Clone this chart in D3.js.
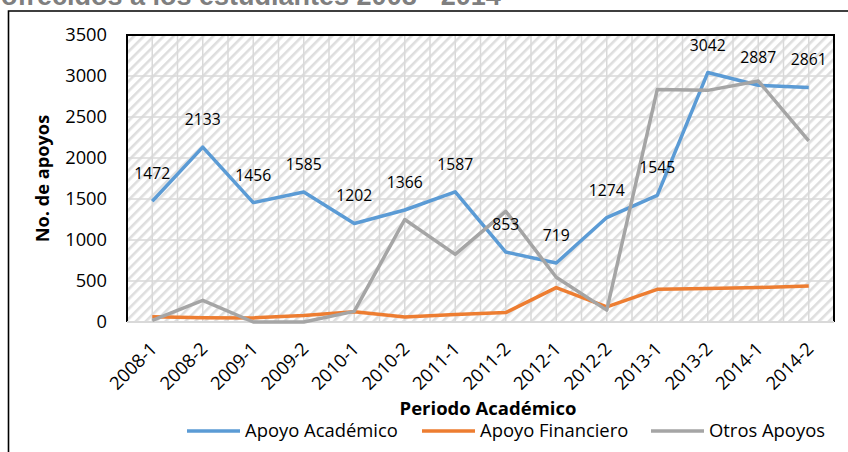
<!DOCTYPE html>
<html><head><meta charset="utf-8">
<script src="https://cdn.jsdelivr.net/npm/d3@7"></script>
<style>
html,body{margin:0;padding:0;background:#fff;}
svg{display:block;}
</style></head>
<body>
<svg id="chart" width="848" height="452"></svg>
<script>
const periods = ["2008-1","2008-2","2009-1","2009-2","2010-1","2010-2","2011-1","2011-2","2012-1","2012-2","2013-1","2013-2","2014-1","2014-2"];
const apoyoAcademico = [1472,2133,1456,1585,1202,1366,1587,853,719,1274,1545,3042,2887,2861];
const apoyoFinanciero = [65,52,50,80,125,60,92,115,420,185,398,408,420,440];
const otrosApoyos = [20,265,0,0,130,1250,825,1350,545,145,2835,2825,2940,2210];
const yTicks = [0,500,1000,1500,2000,2500,3000,3500];
const seriesNames = ["Apoyo Académico","Apoyo Financiero","Otros Apoyos"];
const seriesColors = ["#5b9bd5","#ed7d31","#a5a5a5"];
const titleText = "ofrecidos a los estudiantes 2008 - 2014";

const svg = d3.select("#chart");
const font = "'Open Sans', Lato, sans-serif";
const L = 127, R = 834, T = 35, B = 322;

// title (clipped at top, as in the reference)
svg.append("text").attr("x", 1).attr("y", 5)
  .attr("font-family", "'Liberation Sans', Arial, sans-serif").attr("font-weight", "bold")
  .attr("font-size", 27).attr("fill", "#7f7f7f").text(titleText);

// outer border
svg.append("path").attr("d", `M8.5,460 V11 H860`).attr("fill", "none").attr("stroke", "#000").attr("stroke-width", 1.6);

// hatch pattern
const defs = svg.append("defs");
const pat = defs.append("pattern").attr("id", "hatch").attr("patternUnits", "userSpaceOnUse")
  .attr("width", 7).attr("height", 7).attr("patternTransform", "rotate(45)");
pat.append("rect").attr("width", 7).attr("height", 7).attr("fill", "#ffffff");
pat.append("rect").attr("x", 0).attr("width", 2.6).attr("height", 7).attr("fill", "#dedede");

const x = d3.scaleBand().domain(periods).range([L, R]);
const y = d3.scaleLinear().domain([0, 3500]).range([B, T]);
const cx = d => x(d) + x.bandwidth() / 2;

svg.append("rect").attr("x", L).attr("y", T).attr("width", R - L).attr("height", B - T).attr("fill", "url(#hatch)");

// vertical gridlines (major + minor)
const g = svg.append("g");
const vpos = [];
periods.forEach((p, i) => { vpos.push(x(p)); vpos.push(cx(p)); });
vpos.push(R);
g.selectAll("line.v").data(vpos).join("line")
  .attr("x1", d => d).attr("x2", d => d).attr("y1", T).attr("y2", B)
  .attr("stroke", "#d9d9d9").attr("stroke-width", 1.5);
g.selectAll("line.h").data(yTicks).join("line")
  .attr("x1", L).attr("x2", R).attr("y1", d => y(d)).attr("y2", d => y(d))
  .attr("stroke", "#d9d9d9").attr("stroke-width", 1.5);

// plot border: left, top, right in black
svg.append("path").attr("d", `M${L},${B} V${T} H${R} V${B}`).attr("fill", "none").attr("stroke", "#000").attr("stroke-width", 2);
svg.append("line").attr("x1", L).attr("x2", R).attr("y1", B).attr("y2", B).attr("stroke", "#d9d9d9").attr("stroke-width", 2);

// y axis ticks
const yAxis = d3.axisLeft(y).tickValues(yTicks).tickFormat(d3.format("d")).tickSize(0).tickPadding(20);
const ya = svg.append("g").attr("transform", `translate(${L},0)`).call(yAxis);
ya.select(".domain").remove();
ya.selectAll("text").attr("font-family", font).attr("font-size", 18.3).attr("fill", "#000");

// x axis
const xAxis = d3.axisBottom(x).tickSize(0);
const xa = svg.append("g").attr("transform", `translate(0,${B})`).call(xAxis);
xa.select(".domain").remove();
xa.selectAll("text").attr("font-family", font).attr("font-size", 18.3).attr("fill", "#000")
  .attr("text-anchor", "end").attr("dy", null).attr("y", 0)
  .attr("transform", "translate(6,28) rotate(-45)");

// axis titles
svg.append("text").attr("transform", `translate(49,${(T + B) / 2}) rotate(-90)`).attr("text-anchor", "middle")
  .attr("font-family", font).attr("font-weight", "bold").attr("font-size", 18.2).text("No. de apoyos");
svg.append("text").attr("x", 488).attr("y", 415).attr("text-anchor", "middle")
  .attr("font-family", font).attr("font-weight", "bold").attr("font-size", 18.5).text("Periodo Académico");

// lines
const data = [apoyoAcademico, apoyoFinanciero, otrosApoyos];
const line = d3.line().x((d, i) => cx(periods[i])).y(d => y(d));
data.forEach((s, k) => {
  svg.append("path").datum(s).attr("d", line).attr("fill", "none")
    .attr("stroke", seriesColors[k]).attr("stroke-width", 3.5).attr("stroke-linejoin", "round");
});

// data labels
svg.selectAll("text.lbl").data(apoyoAcademico).join("text").attr("class", "lbl")
  .attr("x", (d, i) => cx(periods[i])).attr("y", d => y(d) - 22)
  .attr("text-anchor", "middle").attr("font-family", font).attr("font-size", 15.7).attr("fill", "#000")
  .text(d => d);

// legend
const legX = [187, 422, 651];
seriesNames.forEach((n, k) => {
  svg.append("line").attr("x1", legX[k]).attr("x2", legX[k] + 53).attr("y1", 431).attr("y2", 431)
    .attr("stroke", seriesColors[k]).attr("stroke-width", 3.5);
  svg.append("text").attr("x", legX[k] + 58).attr("y", 436.5).attr("font-family", font).attr("font-size", 18.4).text(n);
});
</script>
</body></html>
